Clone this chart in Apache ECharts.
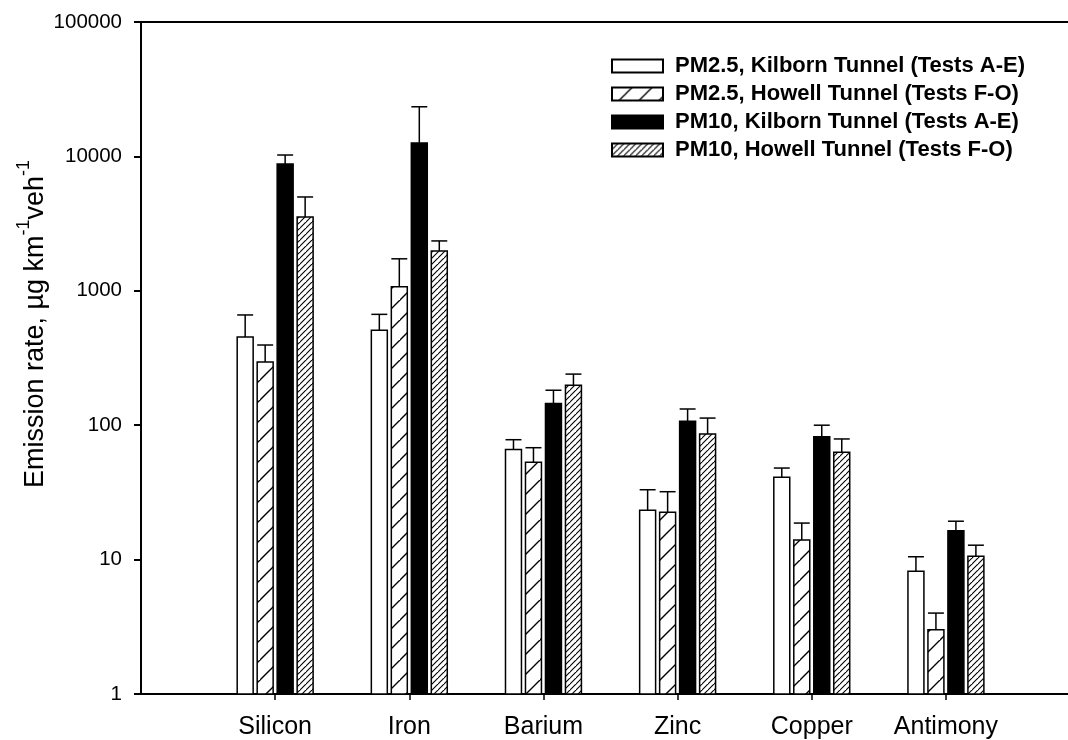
<!DOCTYPE html>
<html>
<head>
<meta charset="utf-8">
<script src="https://cdn.jsdelivr.net/npm/echarts@6/dist/echarts.min.js"></script>
<style>
  html, body { margin: 0; padding: 0; background: #fff; }
  #chart { width: 1068px; height: 740px; }
</style>
</head>
<body>
<div id="chart"></div>
<script>
// Emission rates of elements (µg km-1 veh-1), mean and upper error
const elements = ['Silicon', 'Iron', 'Barium', 'Zinc', 'Copper', 'Antimony'];
const seriesNames = [
  'PM2.5, Kilborn Tunnel (Tests A-E)',
  'PM2.5, Howell Tunnel (Tests F-O)',
  'PM10, Kilborn Tunnel (Tests A-E)',
  'PM10, Howell Tunnel (Tests F-O)'
];
const pm25Kilborn    = [453, 508, 66, 23.3, 41, 8.2];
const pm25KilbornErr = [208, 160, 12, 9.8, 7, 2.3];
const pm25Howell     = [295, 1070, 53, 22.5, 14, 3.0];
const pm25HowellErr  = [100, 660, 15, 9.5, 4.7, 1.0];
const pm10Kilborn    = [8780, 12600, 145, 107, 82, 16.4];
const pm10KilbornErr = [1460, 10800, 37, 25, 18, 2.9];
const pm10Howell     = [3540, 1980, 198, 86, 63, 10.6];
const pm10HowellErr  = [1450, 370, 42, 27, 16, 2.2];
const yTicks = [1, 10, 100, 1000, 10000, 100000];

const FONT = 'Liberation Sans, Arial, sans-serif';

// Diagonal hatch tile ("/" lines) used as a repeating fill
function hatch(size, lw) {
  const c = document.createElement('canvas');
  c.width = size; c.height = size;
  const g = c.getContext('2d');
  g.fillStyle = '#fff';
  g.fillRect(0, 0, size, size);
  g.strokeStyle = '#000';
  g.lineWidth = lw;
  g.beginPath();
  g.moveTo(-1, size + 1); g.lineTo(size + 1, -1);
  g.moveTo(-size - 1, size + 1); g.lineTo(1, -1);
  g.moveTo(size - 1, 2 * size + 1); g.lineTo(2 * size + 1, size - 1);
  g.stroke();
  return { image: c, repeat: 'repeat' };
}

const fills = ['#ffffff', hatch(20, 1.4), '#000000', hatch(6, 1.1)];
const values = [pm25Kilborn, pm25Howell, pm10Kilborn, pm10Howell];
const errors = [pm25KilbornErr, pm25HowellErr, pm10KilbornErr, pm10HowellErr];

function makeRender(slot, fill) {
  return function (params, api) {
    const xi = api.value(0);
    const v = api.value(1);
    const e = api.value(2);
    const unit = api.coord([2, 1])[0] - api.coord([1, 1])[0];
    const barW = unit * 0.119;
    const pitch = unit * 0.149;
    const cx = api.coord([xi, v])[0] + (slot - 1.5) * pitch;
    const top = api.coord([xi, v])[1];
    const base = api.coord([xi, 1])[1];
    const capY = api.coord([xi, v + e])[1];
    const ls = { stroke: '#000', lineWidth: 1.5 };
    return {
      type: 'group',
      children: [
        { type: 'line', shape: { x1: cx, y1: top, x2: cx, y2: capY }, style: ls },
        { type: 'line', shape: { x1: cx - barW / 2, y1: capY, x2: cx + barW / 2, y2: capY }, style: ls },
        {
          type: 'rect',
          shape: { x: cx - barW / 2, y: top, width: barW, height: base - top },
          style: { fill: fill, stroke: '#000', lineWidth: 1.5 }
        }
      ]
    };
  };
}

const series = seriesNames.map(function (name, s) {
  return {
    name: name,
    type: 'custom',
    xAxisIndex: 0,
    yAxisIndex: 0,
    clip: false,
    itemStyle: { color: fills[s], borderColor: '#000', borderWidth: 1.5 },
    encode: { x: 0, y: 1 },
    renderItem: makeRender(s, fills[s]),
    data: elements.map(function (el, i) { return [i + 1, values[s][i], errors[s][i]]; })
  };
});

// x runs past the last category; the frame is cut at the right edge
const X_MAX = 6.91;

const chart = echarts.init(document.getElementById('chart'), null, { renderer: 'canvas' });
chart.setOption({
  animation: false,
  backgroundColor: '#fff',
  textStyle: { fontFamily: FONT, color: '#000' },
  grid: { left: 141, top: 22, bottom: 46, right: 0 },
  legend: {
    orient: 'vertical',
    left: 606,
    top: 50,
    icon: 'rect',
    itemWidth: 51,
    itemHeight: 13,
    itemGap: 6,
    selectedMode: false,
    data: seriesNames,
    textStyle: { fontFamily: FONT, fontSize: 22, fontWeight: 'bold', color: '#000', lineHeight: 22, padding: [0, 0, 0, 7] }
  },
  xAxis: [
    {
      type: 'value', min: 0, max: X_MAX, position: 'bottom',
      axisLine: { onZero: false, lineStyle: { color: '#000', width: 2 } },
      axisTick: { show: true, customValues: [1, 2, 3, 4, 5, 6], length: 6, lineStyle: { color: '#000', width: 1.5 } },
      axisLabel: {
        customValues: [1, 2, 3, 4, 5, 6],
        formatter: function (v) { return elements[Math.round(v) - 1] || ''; },
        fontSize: 25, color: '#000', fontFamily: FONT, margin: 21
      },
      splitLine: { show: false }
    },
    {
      type: 'value', min: 0, max: X_MAX, position: 'top',
      axisLine: { onZero: false, lineStyle: { color: '#000', width: 2 } },
      axisTick: { show: false },
      axisLabel: { show: false },
      splitLine: { show: false }
    }
  ],
  yAxis: {
    type: 'log', logBase: 10, min: yTicks[0], max: yTicks[yTicks.length - 1],
    axisLine: { show: true, onZero: false, lineStyle: { color: '#000', width: 2 } },
    axisTick: { show: true, inside: false, length: 7, lineStyle: { color: '#000', width: 2 } },
    axisLabel: {
      fontSize: 20.5, color: '#000', fontFamily: FONT, margin: 19,
      formatter: function (v) { return String(Math.round(v)); }
    },
    minorTick: { show: false },
    splitLine: { show: false }
  },
  graphic: [
    {
      type: 'text',
      x: 32,
      y: 324,
      rotation: Math.PI / 2,
      style: {
        text: '{n|Emission rate, µg km}{s|-1}{n|veh}{s|-1}',
        align: 'center',
        verticalAlign: 'middle',
        fill: '#000',
        rich: {
          n: { fontSize: 27, fontFamily: FONT, fill: '#000', lineHeight: 34, verticalAlign: 'bottom' },
          s: { fontSize: 18, fontFamily: FONT, fill: '#000', lineHeight: 34, verticalAlign: 'top' }
        }
      }
    }
  ],
  series: series
});
</script>
</body>
</html>
